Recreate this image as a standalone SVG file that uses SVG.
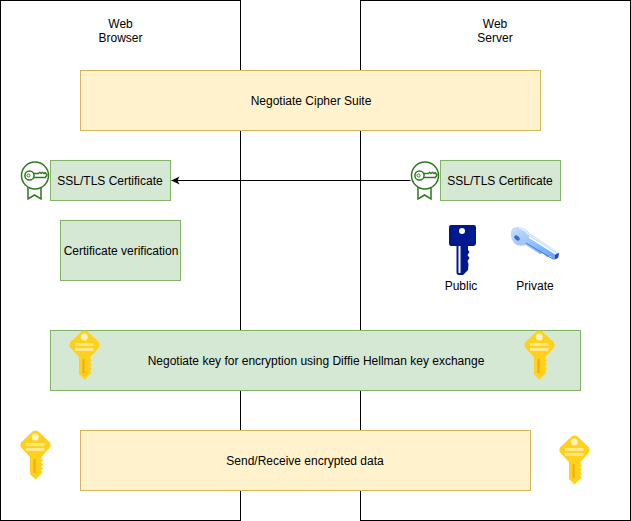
<svg xmlns="http://www.w3.org/2000/svg" xmlns:xlink="http://www.w3.org/1999/xlink" width="631" height="521" viewBox="0 0 631 521">
<style>
text{font-family:"Liberation Sans",Arial,sans-serif;font-size:12px;fill:#000;text-anchor:middle}
.lane{fill:#fff;stroke:#000}
.y{fill:#fff2cc;stroke:#d6b656}
.g{fill:#d5e8d4;stroke:#82b366}
.conn{fill:none;stroke:#000}
</style>
<defs>
<marker id="arrow" markerUnits="userSpaceOnUse" markerWidth="10" markerHeight="10" refX="9" refY="5" orient="auto" viewBox="0 0 10 10">
<path d="M1 1 L9 5 L1 9 L3 5 Z" fill="#000"/>
</marker>
<symbol id="goldkey" width="32" height="50" viewBox="0 0 32 50" overflow="visible">
<path d="M12.500 1.500 Q15.500 -0.500 18.500 1.500 L30 12.500 Q31.500 15 30 17.500 L21.500 27 L21.500 29 L23 30.500 L21 32.500 L23 34.500 L21 36.500 L23 38.500 L21 40.500 L22.500 42.500 L15.500 49.500 L10 44 L10 27 L1 17.500 Q-0.500 15 1 12.500 Z" fill="#ffd11a"/>
<circle cx="15.300" cy="7" r="3.500" fill="#fff2c0"/>
<rect x="6" y="13" width="18.500" height="3" fill="#ffe88a"/>
<rect x="6" y="18" width="18.500" height="3" fill="#ffe88a"/>
<rect x="13.500" y="29" width="2" height="14" fill="#f5a810"/>
</symbol>
<symbol id="cert" width="30" height="40" viewBox="0 0 30 40" overflow="visible">
<path d="M7.500 26 V38 L14 34 L20.500 38 V26" fill="none" stroke="#2d7a1f" stroke-width="1.500"/>
<circle cx="14.500" cy="14.500" r="13.500" fill="#fff" stroke="#2d7a1f" stroke-width="1.500"/>
<circle cx="9" cy="14.500" r="4.600" fill="none" stroke="#2d7a1f" stroke-width="1.500"/>
<circle cx="8" cy="14.500" r="1.500" fill="none" stroke="#2d7a1f"/>
<path d="M13.500 12.500 H18 L19.300 11.300 L20.600 12.500 L22 11.300 L23.400 12.500 L24.600 11.500 L26.500 14 L24.800 16.500 H13.500" fill="none" stroke="#2d7a1f" stroke-width="1.400" stroke-linejoin="round"/>
</symbol>
<linearGradient id="pk" x1="0" y1="0" x2="1" y2="1">
<stop offset="0" stop-color="#c8e0ff"/><stop offset="1" stop-color="#5f9dff"/>
</linearGradient>
</defs>

<g id="browser-lane"><rect class="lane" x="0.5" y="0.5" width="240" height="520"/><text x="120.5" y="28">Web</text><text x="120.5" y="42">Browser</text></g>
<g id="server-lane"><rect class="lane" x="360.5" y="0.5" width="270" height="520"/><text x="495" y="28">Web</text><text x="495" y="42">Server</text></g>

<g id="cipher-suite"><rect class="y" x="80.5" y="70.5" width="460" height="60"/><text x="311" y="105">Negotiate Cipher Suite</text></g>

<g id="browser-cert"><rect class="g" x="50.5" y="160.5" width="120" height="40"/><text x="110" y="185">SSL/TLS Certificate</text><use xlink:href="#cert" href="#cert" x="20.5" y="161"/></g>
<g id="server-cert"><rect class="g" x="440.5" y="160.5" width="120" height="40"/><text x="500" y="185">SSL/TLS Certificate</text><use xlink:href="#cert" href="#cert" x="410.5" y="161"/></g>
<g id="verification"><rect class="g" x="60.5" y="220.5" width="120" height="60"/><text x="121" y="255">Certificate verification</text></g>

<g id="public-key">
<path d="M451 225 H474 Q476 225 476 227 V243 Q476 246 473 246 H468 V250 L469.500 252 L467.500 255 L469.500 258 L467.500 261 L468.500 264 L468 270 L463 275 H459 Q456.500 275 456.500 272 V246 H451 Q449 246 449 243 V227 Q449 225 451 225 Z" fill="#00188f"/>
<circle cx="462" cy="231" r="3" fill="#fff"/>
<rect x="458.500" y="246" width="2" height="27" fill="#fff"/>
<text x="461" y="290">Public</text>
</g>
<g id="private-key">
<path d="M511 232 Q512 227 518 227 Q525 227 529 233 L559 253 L558 258 L554 260 L550 256 L547 257 L543 253 L540 254 L526 245 Q519 247 515 244 Q510 238 511 232 Z" fill="url(#pk)"/>
<path d="M519 228 Q525 229 528 234 L558 253" stroke="#e6f2ff" stroke-width="1.500" fill="none"/>
<path d="M529 237 L556 254" stroke="#fff" stroke-width="1.500" fill="none"/>
<path d="M526 243 L553 259" stroke="#3f7fe0" stroke-width="1" fill="none"/>
<path d="M555 255 L559 253 L558 258 L555 259 Z" fill="#3a3fb0"/>
<ellipse cx="517" cy="238" rx="3.200" ry="2" transform="rotate(40 517 238)" fill="#2f6fd8"/>
<text x="535" y="290">Private</text>
</g>

<g id="connectors"><path class="conn" d="M410.5 180.500 H171.500" marker-end="url(#arrow)"/></g>

<g id="key-exchange"><rect class="g" x="50.5" y="330.5" width="530" height="60"/><text x="316" y="365">Negotiate key for encryption using Diffie Hellman key exchange</text><use xlink:href="#goldkey" href="#goldkey" x="69" y="330"/><use xlink:href="#goldkey" href="#goldkey" x="524" y="330"/></g>
<g id="encrypted-data"><rect class="y" x="80.5" y="430.5" width="450" height="60"/><text x="305" y="465">Send/Receive encrypted data</text></g>
<g id="browser-key"><use xlink:href="#goldkey" href="#goldkey" x="20" y="430"/></g>
<g id="server-key"><use xlink:href="#goldkey" href="#goldkey" x="559" y="435"/></g>
</svg>
